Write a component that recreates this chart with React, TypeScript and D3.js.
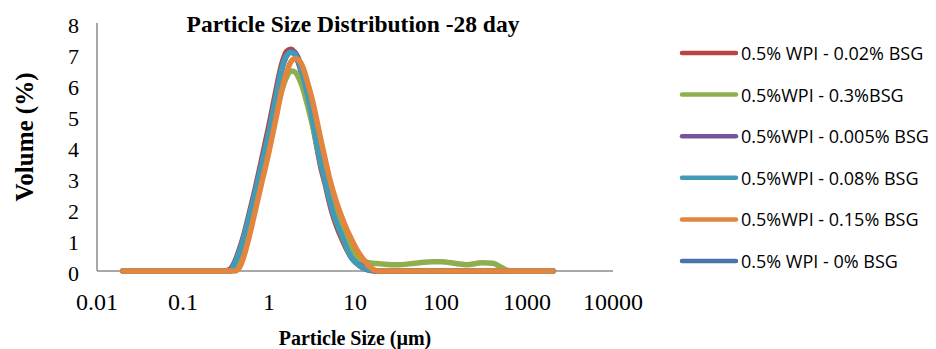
import * as d3 from "d3";

const W = 936;
const H = 349;

// particle size bins (µm)
const sizes = [
  0.02, 0.05, 0.1, 0.2, 0.3, 0.35, 0.4, 0.45, 0.5, 0.6, 0.7, 0.8, 1.0, 1.2, 1.4, 1.6, 1.8, 2.0, 2.2, 2.5, 2.8,
  3.2, 3.6, 4.0, 4.5, 5.0, 5.6, 6.3, 7.0, 8.0, 9.0, 10, 11, 12.5, 14, 16, 18, 20, 30, 50, 80, 100, 150, 200, 300,
  400, 500, 600, 800, 1000, 2000,
];

// volume (%) per bin
const wpi002 = [
  0, 0, 0, 0, 0, 0.05, 0.3, 0.68, 1.08, 1.95, 2.72, 3.45, 4.7, 5.8, 6.65, 7.08, 7.15, 7.02, 6.75, 6.2, 5.6, 4.8,
  4.0, 3.35, 2.8, 2.25, 1.75, 1.35, 1.05, 0.7, 0.45, 0.3, 0.2, 0.1, 0.04, 0.01, 0, 0, 0, 0, 0, 0, 0, 0, 0, 0, 0, 0,
  0, 0, 0,
];
const wpi03 = [
  0, 0, 0, 0, 0, 0, 0.1, 0.4, 0.75, 1.5, 2.25, 2.9, 4.0, 5.0, 5.8, 6.25, 6.45, 6.42, 6.25, 5.85, 5.35, 4.7, 4.05,
  3.5, 3.05, 2.6, 2.2, 1.8, 1.45, 1.05, 0.75, 0.55, 0.42, 0.33, 0.28, 0.25, 0.24, 0.23, 0.2, 0.25, 0.3, 0.3, 0.24,
  0.2, 0.27, 0.25, 0.12, 0.02, 0, 0, 0,
];
const wpi0005 = [
  0, 0, 0, 0, 0, 0, 0.25, 0.6, 1.0, 1.85, 2.6, 3.3, 4.5, 5.6, 6.5, 6.95, 7.08, 7.05, 6.85, 6.35, 5.8, 5.0, 4.25,
  3.6, 3.05, 2.5, 2.0, 1.6, 1.28, 0.9, 0.6, 0.42, 0.3, 0.17, 0.08, 0.03, 0, 0, 0, 0, 0, 0, 0, 0, 0, 0, 0, 0, 0, 0, 0,
];
const wpi008 = [
  0, 0, 0, 0, 0, 0, 0.25, 0.6, 1.0, 1.85, 2.6, 3.3, 4.5, 5.6, 6.5, 6.95, 7.06, 7.0, 6.75, 6.25, 5.7, 4.9, 4.1,
  3.45, 2.9, 2.35, 1.85, 1.45, 1.15, 0.75, 0.45, 0.3, 0.2, 0.1, 0.05, 0.02, 0, 0, 0, 0, 0, 0, 0, 0, 0, 0, 0, 0, 0, 0,
  0,
];
const wpi015 = [
  0, 0, 0, 0, 0, 0, 0, 0.1, 0.4, 1.2, 2.0, 2.7, 3.85, 4.9, 5.8, 6.4, 6.75, 6.85, 6.82, 6.55, 6.1, 5.5, 4.85, 4.25,
  3.6, 3.05, 2.55, 2.1, 1.75, 1.35, 1.05, 0.8, 0.6, 0.38, 0.2, 0.07, 0, 0, 0, 0, 0, 0, 0, 0, 0, 0, 0, 0, 0, 0, 0,
];
const wpi0 = [
  0, 0, 0, 0, 0, 0, 0.22, 0.58, 0.98, 1.82, 2.58, 3.28, 4.48, 5.6, 6.5, 6.95, 7.06, 6.98, 6.72, 6.22, 5.68, 4.88,
  4.1, 3.45, 2.9, 2.35, 1.86, 1.46, 1.15, 0.76, 0.46, 0.3, 0.2, 0.1, 0.05, 0.02, 0, 0, 0, 0, 0, 0, 0, 0, 0, 0, 0, 0,
  0, 0, 0,
];

const xTicks = [0.01, 0.1, 1, 10, 100, 1000, 10000];
const yTicks = [0, 1, 2, 3, 4, 5, 6, 7, 8];

const series = [
  { label: "0.5% WPI - 0.02% BSG", values: wpi002, color: "#B84441" },
  { label: "0.5%WPI - 0.3%BSG", values: wpi03, color: "#8FAE4E" },
  { label: "0.5%WPI - 0.005% BSG", values: wpi0005, color: "#74549C" },
  { label: "0.5%WPI - 0.08% BSG", values: wpi008, color: "#3F9BB7" },
  { label: "0.5%WPI - 0.15% BSG", values: wpi015, color: "#E3853C" },
  { label: "0.5% WPI - 0% BSG", values: wpi0, color: "#4A73AE" },
];
// paint order seen in the picture (teal and orange on top)
const drawOrder = [5, 0, 2, 1, 3, 4];

const serif = "'Liberation Serif', 'Times New Roman', serif";

export default function App() {
  const x = d3.scaleLog().domain([0.01, 10000]).range([97, 613]);
  const y = d3.scaleLinear().domain([0, 8]).range([271, 23]);

  const line = d3
    .line<number>()
    .x((_, i) => x(sizes[i]))
    .y((d) => y(d))
    .curve(d3.curveMonotoneX);

  const legendY = d3.scaleLinear().domain([0, 5]).range([53, 261]);

  return (
    <svg width={W} height={H} style={{ position: "absolute", left: 0, top: 0, background: "#fff" }}>
      <rect width={W} height={H} fill="#fff" />
      <text x={353} y={32} textAnchor="middle" fontFamily={serif} fontWeight="bold" fontSize={23.5}>
        Particle Size Distribution -28 day
      </text>

      {/* axes */}
      <line x1={x(0.01)} x2={x(0.01)} y1={y(8)} y2={y(0)} stroke="#8c8c8c" strokeWidth={1.5} />
      <line x1={x(0.01)} x2={x(10000)} y1={y(0)} y2={y(0)} stroke="#8c8c8c" strokeWidth={1.5} />

      {yTicks.map((t) => (
        <text key={t} x={79} y={y(t) + 2} textAnchor="end" dominantBaseline="central" fontFamily={serif} fontSize={22}>
          {t}
        </text>
      ))}
      {xTicks.map((t) => (
        <text key={t} x={x(t)} y={310} textAnchor="middle" fontFamily={serif} fontSize={24}>
          {t}
        </text>
      ))}

      <text x={355} y={345} textAnchor="middle" fontFamily={serif} fontWeight="bold" fontSize={20}>
        Particle Size (µm)
      </text>
      <text
        transform="translate(33,137) rotate(-90)"
        textAnchor="middle"
        fontFamily={serif}
        fontWeight="bold"
        fontSize={25}
      >
        Volume (%)
      </text>

      {drawOrder.map((i) => (
        <path
          key={series[i].label}
          d={line(series[i].values) ?? ""}
          fill="none"
          stroke={series[i].color}
          strokeWidth={5.5}
          strokeLinecap="round"
          strokeLinejoin="round"
        />
      ))}

      {/* legend */}
      {series.map((s, i) => (
        <g key={s.label} transform={`translate(0,${legendY(i)})`}>
          <line x1={682} x2={736} y1={0} y2={0} stroke={s.color} strokeWidth={4.5} strokeLinecap="round" />
          <text x={741} y={0} dominantBaseline="central" fontFamily="'Open Sans', sans-serif" fontSize={18}>
            {s.label}
          </text>
        </g>
      ))}
    </svg>
  );
}
